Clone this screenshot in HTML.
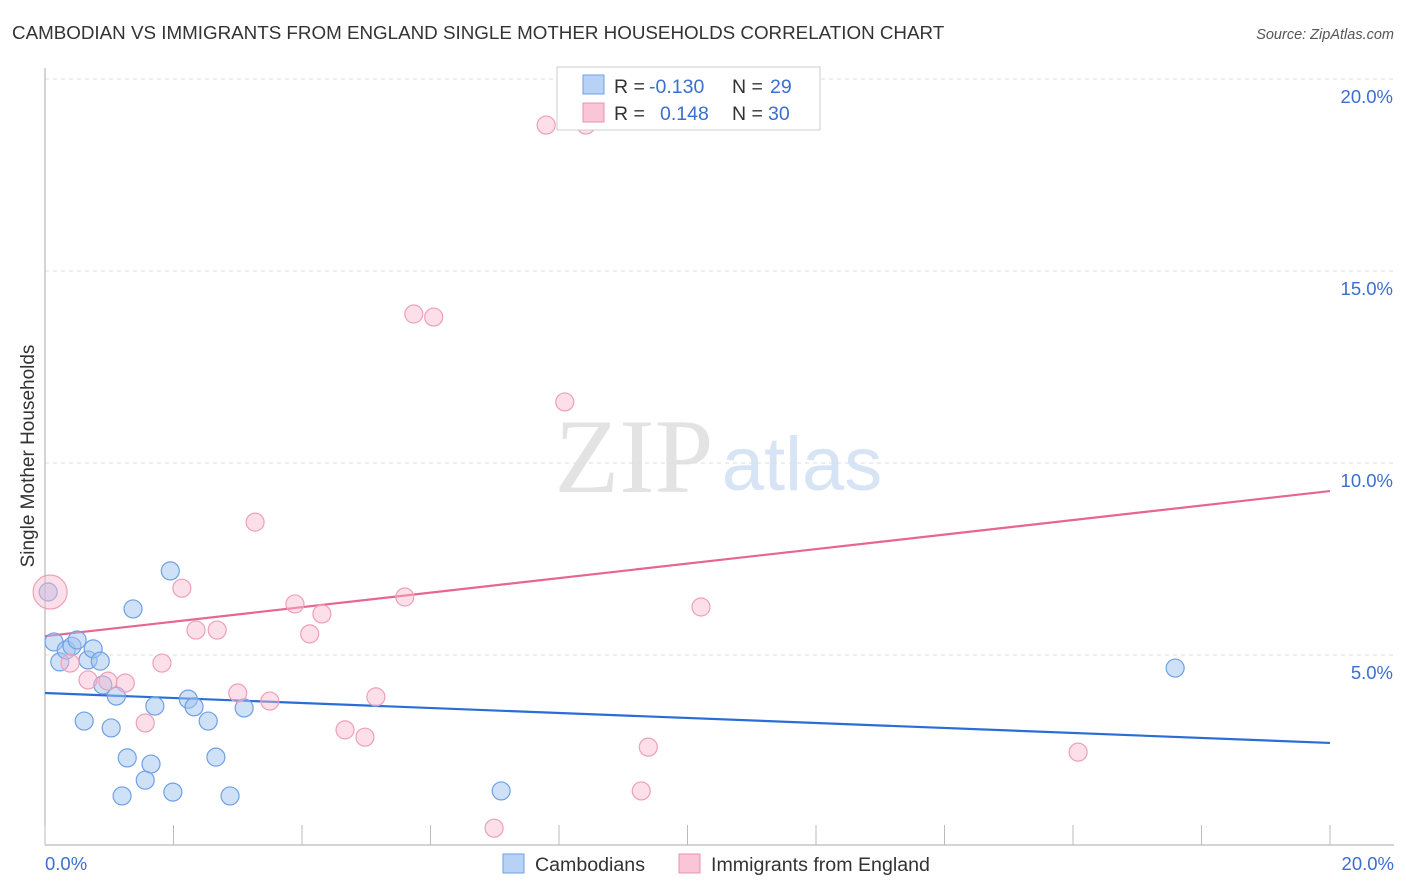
<!DOCTYPE html>
<html><head><meta charset="utf-8"><style>
body{margin:0;background:#fff;font-family:"Liberation Sans",sans-serif;}
svg{display:block}
</style></head><body>
<svg id="chart" width="1406" height="892">
<text x="12" y="39" font-size="18.8" fill="#333">CAMBODIAN VS IMMIGRANTS FROM ENGLAND SINGLE MOTHER HOUSEHOLDS CORRELATION CHART</text>
<text x="1394" y="39" font-size="14.5" fill="#555" font-style="italic" text-anchor="end">Source: ZipAtlas.com</text>
<text x="34" y="456" font-size="19" fill="#333" text-anchor="middle" transform="rotate(-90 34 456)">Single Mother Households</text>
<g>
<text x="634" y="492" font-size="106" fill="#e3e3e3" font-family="Liberation Serif,serif" text-anchor="middle">ZIP</text>
<text x="802" y="490" font-size="76" fill="#d6e4f5" text-anchor="middle">atlas</text>
</g>
<g id="grid"></g><g id="axes"></g><g id="trends"></g><g id="points"></g>
<g>
<rect x="557" y="67" width="263" height="63" fill="#fff" stroke="#ccc"/>
<rect x="583" y="75" width="21" height="19" fill="#b8d2f5" stroke="#6fa0e6"/>
<rect x="583" y="103" width="21" height="19" fill="#fac5d6" stroke="#ef90ae"/>
<text x="614" y="93" font-size="19.5" fill="#333">R = </text><text x="649" y="93" font-size="19.5" fill="#3a6fd0">-0.130</text>
<text x="732" y="93" font-size="19.5" fill="#333">N = </text><text x="770" y="93" font-size="19.5" fill="#3a6fd0">29</text>
<text x="614" y="120" font-size="19.5" fill="#333">R = </text><text x="660" y="120" font-size="19.5" fill="#3a6fd0">0.148</text>
<text x="732" y="120" font-size="19.5" fill="#333">N = </text><text x="768" y="120" font-size="19.5" fill="#3a6fd0">30</text>
</g>
<g>
<rect x="503" y="854" width="21" height="19" fill="#b8d2f5" stroke="#6fa0e6"/>
<text x="535" y="871" font-size="19.6" fill="#333">Cambodians</text>
<rect x="679" y="854" width="21" height="19" fill="#fac5d6" stroke="#ef90ae"/>
<text x="711" y="871" font-size="19.6" fill="#333">Immigrants from England</text>
</g>
</svg>
<script>
const blueX=[0.05,0.14,0.23,0.33,0.42,0.50,0.67,0.75,0.86,0.90,1.11,0.61,1.03,1.37,1.95,1.71,2.23,2.32,2.54,3.10,1.28,1.65,1.56,1.20,1.99,2.66,2.88,7.10,17.59];
const blueY=[6.64,5.34,4.82,5.13,5.23,5.39,4.87,5.16,4.84,4.22,3.93,3.28,3.10,6.20,7.19,3.67,3.85,3.65,3.28,3.62,2.32,2.16,1.74,1.33,1.43,2.34,1.33,1.46,4.66];
const pinkX=[0.08,0.39,0.67,0.98,1.25,1.56,1.82,2.13,2.35,2.68,3.00,3.27,3.50,3.89,4.12,4.31,4.67,4.98,5.15,5.60,5.74,6.05,7.80,8.42,8.09,6.99,9.39,9.28,10.21,16.08];
const pinkY=[6.64,4.79,4.35,4.32,4.27,3.23,4.79,6.74,5.65,5.65,4.01,8.46,3.80,6.33,5.55,6.07,3.05,2.86,3.91,6.51,13.88,13.80,18.80,18.80,11.59,0.49,2.60,1.46,6.25,2.47];
const pinkR=[17,9,9,9,9,9,9,9,9,9,9,9,9,9,9,9,9,9,9,9,9,9,9,9,9,9,9,9,9,9];
const blueTrend=[4.01,2.71];
const pinkTrend=[5.49,9.27];
const yTicks=[5,10,15,20];
const xTicks=[0,20];
const NS="http://www.w3.org/2000/svg";
const sx=v=>45+v*64.25, sy=v=>847-v*38.4;
function mk(parent,tag,attrs){const e=document.createElementNS(NS,tag);for(const k in attrs)e.setAttribute(k,attrs[k]);document.getElementById(parent).appendChild(e);return e;}
yTicks.forEach(t=>{
 const l=mk('grid','line',{x1:45,x2:1394,y1:sy(t),y2:sy(t),stroke:'#ddd','stroke-dasharray':'4,4'});
 
 
 const tx=mk('grid','text',{x:1393,y:sy(t)+24,'font-size':18.5,fill:'#3a6fd0','text-anchor':'end'});
 tx.textContent=t.toFixed(1)+'%';
 
 
});
const ax=mk('axes','line',{x1:45,x2:45,y1:68,y2:845,stroke:'#aaa'});


const bx=mk('axes','line',{x1:45,x2:1394,y1:845,y2:845,stroke:'#aaa'});


for(let i=0;i<=10;i++){const t=mk('axes','line',{x1:sx(i*2),x2:sx(i*2),y1:825,y2:845,stroke:'#bbb'});
 
 }
xTicks.forEach((t,i)=>{const tx=mk('axes','text',{x:i?1394:45,y:870,'font-size':18.5,fill:'#3a6fd0','text-anchor':i?'end':'start'});
 tx.textContent=t.toFixed(1)+'%';
 
 });
blueX.forEach((x,i)=>{const c=mk('points','circle',{cx:sx(x),cy:sy(blueY[i]),r:9,fill:'rgba(160,195,240,0.5)',stroke:'#6fa0e6','stroke-width':1.2});
 
 });
pinkX.forEach((x,i)=>{const c=mk('points','circle',{cx:sx(x),cy:sy(pinkY[i]),r:pinkR[i],fill:'rgba(248,185,205,0.45)',stroke:'#ef9fb8','stroke-width':1.2});
 
 });
const bt=mk('trends','line',{x1:sx(0),x2:sx(20),y1:sy(blueTrend[0]),y2:sy(blueTrend[1]),stroke:'#2a6dd6','stroke-width':2.2});


const pt=mk('trends','line',{x1:sx(0),x2:sx(20),y1:sy(pinkTrend[0]),y2:sy(pinkTrend[1]),stroke:'#e8658f','stroke-width':2.2});


</script>
</body></html>
